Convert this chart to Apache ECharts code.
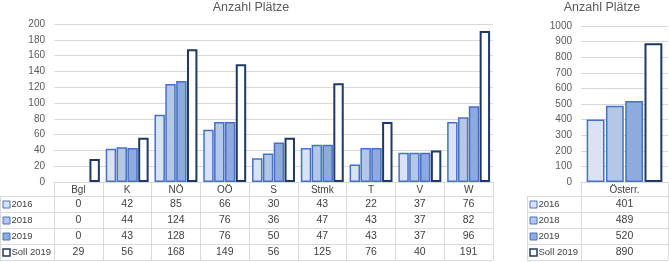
<!DOCTYPE html>
<html>
<head>
<meta charset="utf-8">
<script src="https://cdn.jsdelivr.net/npm/echarts@6/dist/echarts.min.js"></script>
<style>
  html, body { margin: 0; padding: 0; background: #fff; }
  #chart { width: 669px; height: 262px; }
</style>
</head>
<body>
<div id="chart"></div>
<script>
const regions = ['Bgl', 'K', 'NÖ', 'OÖ', 'S', 'Stmk', 'T', 'V', 'W']
const total = ['Österr.']
const seriesNames = ['2016', '2018', '2019', 'Soll 2019']

const val2016 = [0, 42, 85, 66, 30, 43, 22, 37, 76]
const val2018 = [0, 44, 124, 76, 36, 47, 43, 37, 82]
const val2019 = [0, 43, 128, 76, 50, 47, 43, 37, 96]
const valSoll = [29, 56, 168, 149, 56, 125, 76, 40, 191]

const total2016 = [401]
const total2018 = [489]
const total2019 = [520]
const totalSoll = [890]

const leftValues = [val2016, val2018, val2019, valSoll]
const rightValues = [total2016, total2018, total2019, totalSoll]

const fills = ['#dae3f3', '#b4c7e7', '#8faadc', '#ffffff']
const borders = ['#4472c4', '#4472c4', '#4472c4', '#203864']

const FONT = 'Liberation Sans'
const gridColor = '#d9d9d9'
const textColor = '#404040'

// table rows below the axes
const rowTops = [196, 212, 228, 244]
const rowH = 16

const chart = echarts.init(document.getElementById('chart'))

const makeX = (data, gridIndex) => ({
  type: 'category',
  gridIndex,
  data,
  axisLine: { lineStyle: { color: gridColor, width: 1 } },
  axisTick: { show: true, length: 78, lineStyle: { color: gridColor } },
  axisLabel: { margin: 3, fontSize: 10, color: textColor, fontFamily: FONT }
})

const makeY = (gridIndex, max, interval) => ({
  type: 'value',
  gridIndex,
  min: 0,
  max,
  interval,
  axisLine: { show: false },
  axisTick: { show: false },
  axisLabel: { fontSize: 10, color: '#595959', margin: 9, fontFamily: FONT, formatter: v => String(v) },
  splitLine: { lineStyle: { color: gridColor } }
})

const makeSeries = (values, axisIndex, gap, catGap) =>
  values.map((data, i) => ({
    name: seriesNames[i],
    type: 'bar',
    xAxisIndex: axisIndex,
    yAxisIndex: axisIndex,
    barGap: gap,
    barCategoryGap: catGap,
    itemStyle: {
      color: fills[i],
      borderColor: borders[i],
      borderWidth: i === 3 ? 2 : 1.5
    },
    data: data.map(v => (v === 0 ? { value: v, itemStyle: { borderWidth: 0 } } : v))
  }))

const titleStyle = { fontSize: 12.5, fontWeight: 'normal', color: '#595959', fontFamily: FONT }

chart.setOption({
  animation: false,
  title: [
    { text: 'Anzahl Plätze', left: 246, top: -4, textAlign: 'center', textStyle: titleStyle },
    { text: 'Anzahl Plätze', left: 597, top: -4, textAlign: 'center', textStyle: titleStyle }
  ],
  grid: [
    { left: 54, right: 176, top: 24, bottom: 80 },
    { left: 581, right: 1, top: 26, bottom: 80 }
  ],
  xAxis: [makeX(regions, 0), makeX(total, 1)],
  yAxis: [makeY(0, 200, 20), makeY(1, 1000, 100)],
  series: [
    ...makeSeries(leftValues, 0, '4%', '12%'),
    ...makeSeries(rightValues, 1, '8%', '13%')
  ]
})

// data table under each chart, built from the same arrays
const buildTable = (axisIndex, cats, values, colLeft, colRight) => {
  const els = []
  const bottom = rowTops[rowTops.length - 1] + rowH
  const line = (x1, y1, x2, y2) => ({
    type: 'line', silent: true,
    shape: { x1, y1, x2, y2 },
    style: { stroke: gridColor, lineWidth: 1 }
  })
  els.push(line(colLeft, rowTops[0] + 0.5, colRight, rowTops[0] + 0.5))
  rowTops.forEach(top => els.push(line(colLeft, top + rowH + 0.5, colRight, top + rowH + 0.5)))
  els.push(line(colLeft + 0.5, rowTops[0], colLeft + 0.5, bottom))

  rowTops.forEach((top, r) => {
    const cy = top + rowH / 2 + 0.5
    els.push({
      type: 'rect', silent: true,
      shape: { x: colLeft + 3, y: cy - 3.5, width: 7, height: 7 },
      style: { fill: fills[r], stroke: borders[r], lineWidth: r === 3 ? 1.5 : 1 }
    })
    els.push({
      type: 'text', silent: true,
      x: colLeft + 11.5, y: cy,
      style: { text: seriesNames[r], fontSize: 9.5, fontFamily: FONT, fill: textColor, verticalAlign: 'middle' }
    })
    cats.forEach((c, i) => {
      const cx = chart.convertToPixel({ xAxisIndex: axisIndex }, c)
      els.push({
        type: 'text', silent: true,
        x: cx, y: cy,
        style: { text: String(values[r][i]), fontSize: 10.5, fontFamily: FONT, fill: textColor, align: 'center', verticalAlign: 'middle' }
      })
    })
  })
  return els
}

chart.setOption({
  graphic: [
    ...buildTable(0, regions, leftValues, 0, 493),
    ...buildTable(1, total, rightValues, 527, 668)
  ]
})
</script>
</body>
</html>
